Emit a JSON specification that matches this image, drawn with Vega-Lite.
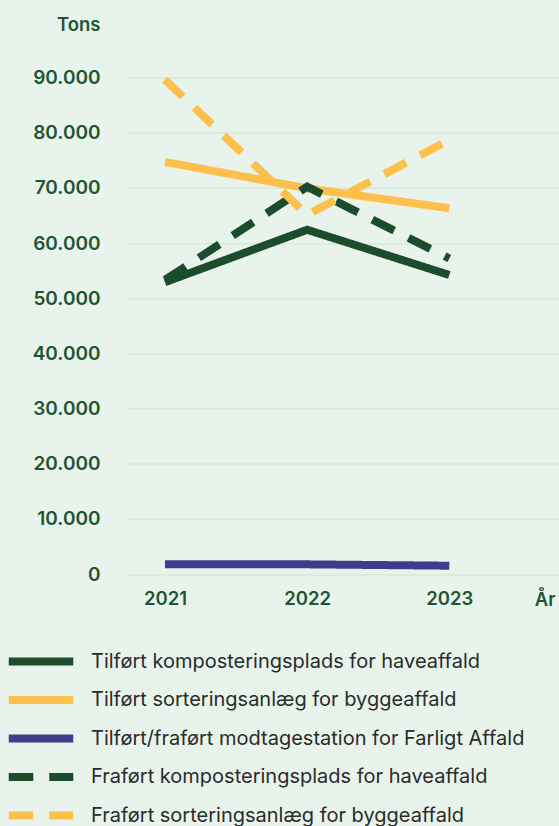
{
  "$schema": "https://vega.github.io/schema/vega-lite/v6.json",
  "width": 432,
  "height": 496.5,
  "autosize": {"type": "none"},
  "padding": {"left": 127, "top": 77.5, "right": 0, "bottom": 252},
  "background": "#e8f3ec",
  "config": {"view": {"stroke": null}, "font": "Inter"},
  "data": {
    "values": [
      {"serie": "Tilført komposteringsplads for haveaffald", "year": 2021, "tons": 52900},
      {"serie": "Tilført komposteringsplads for haveaffald", "year": 2022, "tons": 62400},
      {"serie": "Tilført komposteringsplads for haveaffald", "year": 2023, "tons": 54200},
      {"serie": "Tilført sorteringsanlæg for byggeaffald", "year": 2021, "tons": 74700},
      {"serie": "Tilført sorteringsanlæg for byggeaffald", "year": 2022, "tons": 69900},
      {"serie": "Tilført sorteringsanlæg for byggeaffald", "year": 2023, "tons": 66300},
      {"serie": "Tilført/fraført modtagestation for Farligt Affald", "year": 2021, "tons": 1750},
      {"serie": "Tilført/fraført modtagestation for Farligt Affald", "year": 2022, "tons": 1750},
      {"serie": "Tilført/fraført modtagestation for Farligt Affald", "year": 2023, "tons": 1500},
      {"serie": "Fraført komposteringsplads for haveaffald", "year": 2021, "tons": 53300},
      {"serie": "Fraført komposteringsplads for haveaffald", "year": 2022, "tons": 70200},
      {"serie": "Fraført komposteringsplads for haveaffald", "year": 2023, "tons": 57200},
      {"serie": "Fraført sorteringsanlæg for byggeaffald", "year": 2021, "tons": 89600},
      {"serie": "Fraført sorteringsanlæg for byggeaffald", "year": 2022, "tons": 65100},
      {"serie": "Fraført sorteringsanlæg for byggeaffald", "year": 2023, "tons": 78700}
    ]
  },
  "mark": {"type": "line", "strokeWidth": 8, "strokeCap": "butt", "strokeJoin": "miter"},
  "encoding": {
    "x": {
      "field": "year",
      "type": "quantitative",
      "scale": {"domain": [2020.7327, 2023.7717], "nice": false, "zero": false},
      "axis": {
        "values": [2021, 2022, 2023],
        "format": "d",
        "grid": false,
        "ticks": false,
        "domain": false,
        "labelFont": "Inter",
        "labelFontSize": 18.5,
        "labelFontWeight": 600,
        "labelColor": "#1e5631",
        "labelPadding": 15,
        "title": "År",
        "titleFont": "Inter",
        "titleFontSize": 18.5,
        "titleFontWeight": 600,
        "titleColor": "#1e5631",
        "titleAnchor": "end",
        "titleAlign": "right",
        "titleBaseline": "alphabetic",
        "titleX": 428,
        "titleY": 31,
        "encode": {"labels": {"update": {"dx": {"signal": "datum.value === 2022 ? -9 : datum.value === 2021 ? 3 : -3"}}}}
      }
    },
    "y": {
      "field": "tons",
      "type": "quantitative",
      "scale": {"domain": [0, 90000], "nice": false},
      "axis": {
        "values": [0, 10000, 20000, 30000, 40000, 50000, 60000, 70000, 80000, 90000],
        "labelExpr": "replace(format(datum.value, ',d'), ',', '.')",
        "ticks": false,
        "domain": false,
        "grid": true,
        "gridColor": "#d7e9db",
        "gridWidth": 1.5,
        "labelFont": "Inter",
        "labelFontSize": 19,
        "labelFontWeight": 600,
        "labelColor": "#1e5631",
        "labelPadding": 27,
        "title": "Tons",
        "titleFont": "Inter",
        "titleFontSize": 18.5,
        "titleFontWeight": 600,
        "titleColor": "#1e5631",
        "titleAngle": 0,
        "titleAlign": "right",
        "titleBaseline": "alphabetic",
        "titleX": -27,
        "titleY": -47.5
      }
    },
    "color": {
      "field": "serie",
      "type": "nominal",
      "scale": {
        "domain": ["Tilført komposteringsplads for haveaffald", "Tilført sorteringsanlæg for byggeaffald", "Tilført/fraført modtagestation for Farligt Affald", "Fraført komposteringsplads for haveaffald", "Fraført sorteringsanlæg for byggeaffald"],
        "range": ["#1b4d2c", "#fdc04c", "#3c3e8c", "#1b4d2c", "#fdc04c"]
      },
      "legend": {
        "title": null,
        "orient": "none",
        "legendX": -105,
        "legendY": 565,
        "direction": "vertical",
        "symbolType": "M-2.15,0H2.15",
        "symbolSize": 900,
        "symbolStrokeWidth": 8,
        "labelFont": "Inter",
        "labelFontSize": 20,
        "labelFontWeight": 400,
        "labelColor": "#2b2b2b",
        "labelOffset": 31,
        "labelLimit": 500,
        "rowPadding": 3.5,
        "padding": 0
      }
    },
    "strokeDash": {
      "field": "serie",
      "type": "nominal",
      "scale": {
        "domain": ["Tilført komposteringsplads for haveaffald", "Tilført sorteringsanlæg for byggeaffald", "Tilført/fraført modtagestation for Farligt Affald", "Fraført komposteringsplads for haveaffald", "Fraført sorteringsanlæg for byggeaffald"],
        "range": [[1, 0], [1, 0], [1, 0], [24.5, 16], [24.5, 16]]
      },
      "legend": {
        "title": null,
        "orient": "none",
        "legendX": -105,
        "legendY": 565,
        "direction": "vertical",
        "symbolType": "M-2.15,0H2.15",
        "symbolSize": 900,
        "symbolStrokeWidth": 8,
        "labelFont": "Inter",
        "labelFontSize": 20,
        "labelFontWeight": 400,
        "labelColor": "#2b2b2b",
        "labelOffset": 31,
        "labelLimit": 500,
        "rowPadding": 3.5,
        "padding": 0
      }
    }
  }
}
